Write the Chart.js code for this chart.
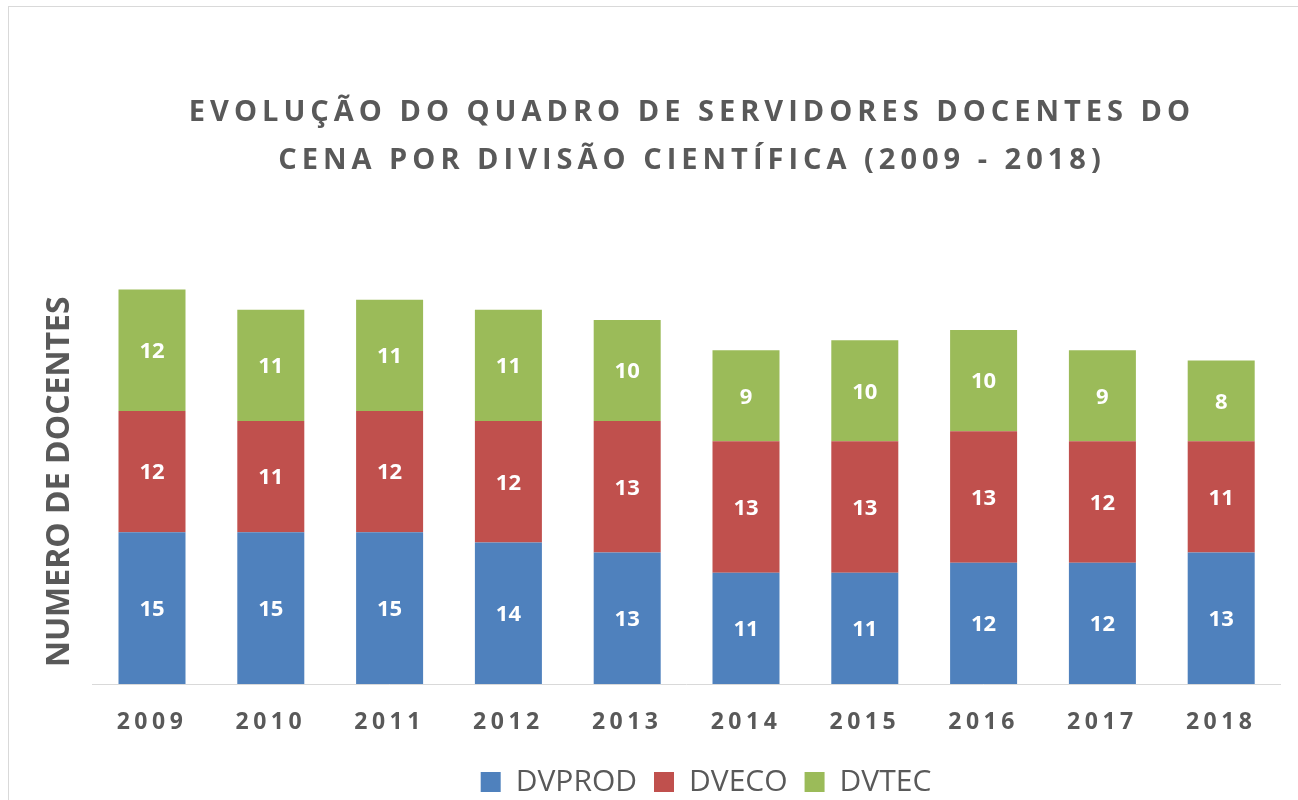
<!DOCTYPE html>
<html>
<head>
<meta charset="utf-8">
<script src="https://cdn.jsdelivr.net/npm/chart.js@4/dist/chart.umd.min.js"></script>
<style>
  html, body { margin: 0; padding: 0; background: #fff; overflow: hidden; width: 1298px; height: 800px; }
  #frame { position: absolute; left: 8px; top: 6px; width: 1500px; height: 1000px; border: 1px solid #d9d9d9; box-sizing: border-box; }
  #c { position: absolute; left: 0; top: 0; }
</style>
</head>
<body>
<div id="frame"></div>
<canvas id="c" width="1384" height="810"></canvas>
<script>
const years = ['2009','2010','2011','2012','2013','2014','2015','2016','2017','2018'];
const dvprod = [15,15,15,14,13,11,11,12,12,13];
const dveco  = [12,11,12,12,13,13,13,13,12,11];
const dvtec  = [12,11,11,11,10,9,10,10,9,8];
const seriesNames = ['DVPROD','DVECO','DVTEC'];
const titleLines = ['EVOLUÇÃO DO QUADRO DE SERVIDORES DOCENTES DO', 'CENA POR DIVISÃO CIENTÍFICA (2009 - 2018)'];
const yTitle = 'NUMERO DE DOCENTES';

const TEXT = '#595959';

const spacingPlugin = {
  id: 'spacing',
  beforeDraw(chart) {
    const tb = chart.titleBlock;
    if (tb && !tb._wrapped) {
      const orig = tb.draw.bind(tb);
      tb.draw = function(...a) { const c = chart.ctx; c.save(); c.letterSpacing = '5px'; orig(...a); c.restore(); };
      tb._wrapped = true;
    }
    const xs = chart.scales.x;
    if (xs && !xs._wrapped) {
      const origL = xs.drawLabels.bind(xs);
      xs.drawLabels = function(...a) { const c = chart.ctx; c.save(); c.letterSpacing = '4.5px'; origL(...a); c.restore(); };
      xs._wrapped = true;
    }
    const lg = chart.legend;
    if (lg && !lg._wrapped) {
      const origG = lg.draw.bind(lg);
      lg.draw = function(...a) { const c = chart.ctx; c.save(); c.translate(14, 0); origG(...a); c.restore(); };
      lg._wrapped = true;
    }
  }
};

const valueLabels = {
  id: 'valueLabels',
  afterDatasetsDraw(chart) {
    const ctx = chart.ctx;
    ctx.save();
    ctx.fillStyle = '#ffffff';
    ctx.font = 'bold 22px "Open Sans"';
    ctx.textAlign = 'center';
    ctx.textBaseline = 'middle';
    chart.data.datasets.forEach((ds, i) => {
      const meta = chart.getDatasetMeta(i);
      meta.data.forEach((el, j) => {
        const p = el.getProps(['x','y','base'], true);
        ctx.fillText(String(ds.data[j]), p.x, (p.y + p.base) / 2 + 1.5);
      });
    });
    ctx.restore();
  }
};

new Chart(document.getElementById('c'), {
  type: 'bar',
  data: {
    labels: years,
    datasets: [
      { label: seriesNames[0], data: dvprod, backgroundColor: '#4F81BD' },
      { label: seriesNames[1], data: dveco,  backgroundColor: '#C0504D' },
      { label: seriesNames[2], data: dvtec,  backgroundColor: '#9BBB59' }
    ]
  },
  options: {
    responsive: false,
    animation: false,
    datasets: { bar: { categoryPercentage: 1, barPercentage: 0.564 } },
    layout: { padding: { left: 0, right: 0, top: 0, bottom: 3 } },
    plugins: {
      tooltip: { enabled: false },
      title: {
        display: true,
        text: titleLines,
        color: TEXT,
        font: { family: '"Open Sans"', size: 29, weight: 'bold', lineHeight: '48px' },
        padding: { top: 89, bottom: 94.5 }
      },
      legend: {
        position: 'bottom',
        labels: {
          color: TEXT,
          font: { family: '"Open Sans"', size: 30 },
          boxWidth: 20,
          boxHeight: 20,
          padding: 17
        }
      }
    },
    scales: {
      x: {
        stacked: true,
        grid: { display: false, drawTicks: false },
        border: { display: true, color: '#d9d9d9', width: 1 },
        ticks: { color: TEXT, font: { family: '"Open Sans"', size: 23, weight: 'bold' }, padding: 25, autoSkip: false, maxRotation: 0 },
        afterFit(scale) { scale.height = 66; }
      },
      y: {
        stacked: true,
        min: 0,
        max: 40,
        grid: { display: false, drawTicks: false },
        border: { display: false },
        ticks: { display: false },
        title: {
          display: true,
          text: yTitle,
          color: TEXT,
          font: { family: '"Open Sans"', size: 32, weight: 'bold', lineHeight: 1.2 },
          padding: { top: 40.8, bottom: 13.4 }
        }
      },
      yRight: {
        position: 'right',
        display: true,
        grid: { display: false, drawTicks: false },
        border: { display: false },
        ticks: { display: false },
        afterFit(scale) { scale.width = 103.4; }
      }
    }
  },
  plugins: [spacingPlugin, valueLabels]
});
</script>
</body>
</html>
